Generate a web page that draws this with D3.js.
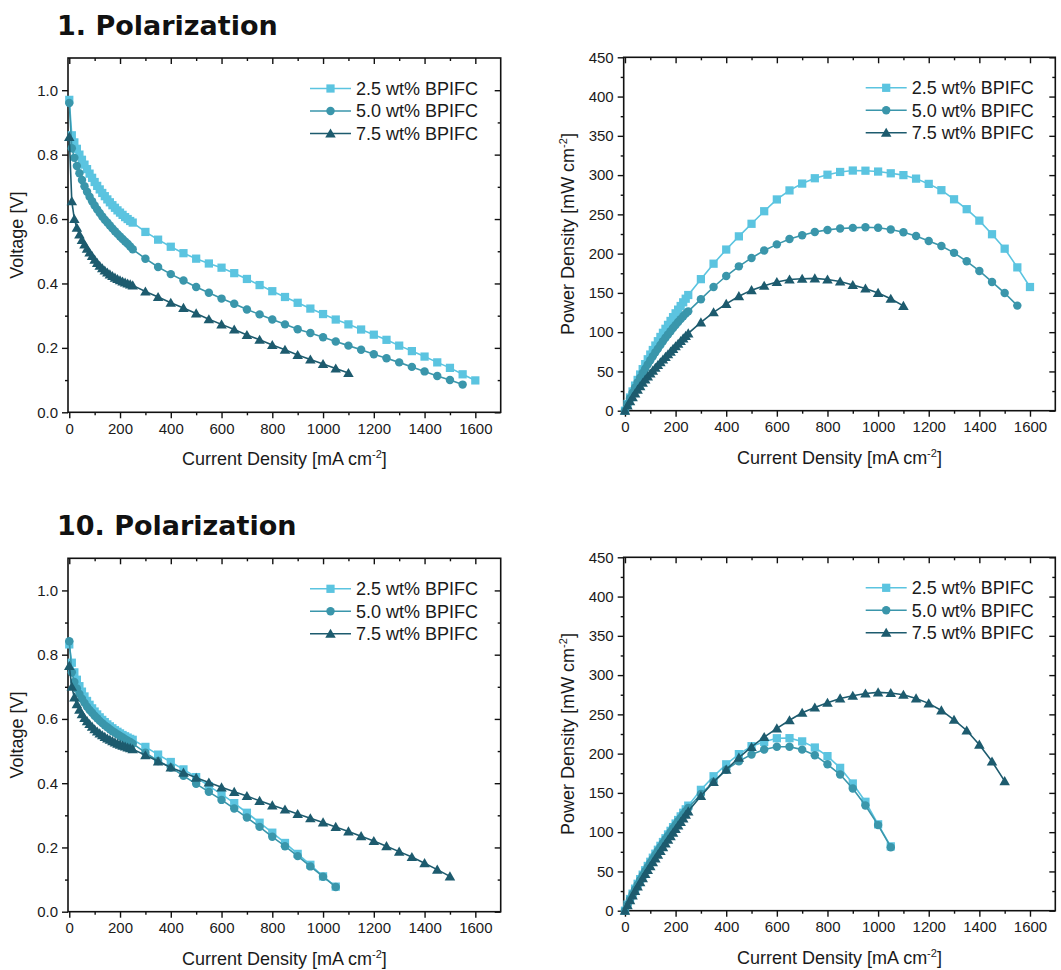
<!DOCTYPE html>
<html>
<head>
<meta charset="utf-8">
<script src="https://cdn.jsdelivr.net/npm/d3@7"></script>
<style>
  body { margin: 0; background: #ffffff; }
  svg { display: block; }
</style>
</head>
<body>
<svg id="chart" width="1061" height="970"></svg>
<script>
// Current density steps (mA cm-2) shared by every measurement
const currentDensity = [0,10,20,30,40,50,60,70,80,90,100,110,120,130,140,150,160,170,180,190,200,210,220,230,240,250,
  300,350,400,450,500,550,600,650,700,750,800,850,900,950,1000,1050,1100,1150,1200,1250,1300,1350,1400,1450,1500,1550,1600];

const seriesNames = ["2.5 wt% BPIFC", "5.0 wt% BPIFC", "7.5 wt% BPIFC"];
const seriesColors = ["#5bc4e0", "#3a96ab", "#1d5b6e"];
const seriesSymbols = [d3.symbolSquare, d3.symbolCircle, d3.symbolTriangle];
const symbolSizes = [68, 56, 48];

const panelTitles = ["1. Polarization", "10. Polarization"];

const xTicks = [0, 200, 400, 600, 800, 1000, 1200, 1400, 1600];
const voltageTicks = [0, 0.2, 0.4, 0.6, 0.8, 1.0];
const powerTicks = [0, 50, 100, 150, 200, 250, 300, 350, 400, 450];

// 1st polarization: voltage (V)
const voltage1_25 = [0.970,0.860,0.838,0.818,0.800,0.784,0.769,0.755,0.741,0.728,0.715,0.703,0.692,0.681,0.671,0.661,0.652,0.643,0.635,0.627,0.620,0.613,0.606,0.600,0.594,0.589,
  0.560,0.536,0.514,0.494,0.477,0.462,0.449,0.432,0.414,0.395,0.376,0.358,0.340,0.322,0.305,0.288,0.273,0.257,0.241,0.225,0.207,0.190,0.173,0.155,0.138,0.118,0.099];
const voltage1_50 = [0.960,0.820,0.790,0.765,0.742,0.721,0.702,0.685,0.669,0.655,0.642,0.630,0.619,0.608,0.598,0.589,0.580,0.571,0.562,0.554,0.546,0.538,0.530,0.523,0.515,0.506,
  0.477,0.451,0.429,0.409,0.389,0.371,0.353,0.337,0.319,0.304,0.288,0.273,0.258,0.246,0.233,0.220,0.207,0.194,0.180,0.168,0.155,0.141,0.127,0.113,0.100,0.086];
const voltage1_75 = [0.855,0.655,0.600,0.573,0.552,0.535,0.521,0.508,0.496,0.485,0.474,0.464,0.455,0.447,0.440,0.434,0.428,0.423,0.418,0.414,0.410,0.406,0.403,0.400,0.397,0.394,
  0.375,0.358,0.340,0.324,0.307,0.289,0.273,0.257,0.240,0.225,0.209,0.194,0.178,0.164,0.150,0.136,0.122];

// 1st polarization: power density (mW cm-2)
const power1_25 = [0,8.6,16.8,24.5,32.0,39.2,46.1,52.9,59.3,65.5,71.5,77.3,83.0,88.5,93.9,99.2,104.3,109.3,114.3,119.1,124.0,128.7,133.3,138.0,142.6,147.3,
  167.5,187.2,205.2,222.0,238.0,254.0,269.0,280.5,289.2,296.0,300.5,304.0,305.8,305.6,304.5,302.3,300.0,295.5,288.8,280.8,269.2,256.6,242.0,224.7,206.3,182.5,157.5];
const power1_50 = [0,8.2,15.8,23.0,29.7,36.1,42.1,48.0,53.5,59.0,64.2,69.3,74.3,79.0,83.7,88.4,92.8,97.1,101.2,105.3,109.2,113.0,116.6,120.3,123.6,126.5,
  142.0,157.5,171.5,183.8,194.5,204.0,211.8,218.7,223.3,227.5,230.2,232.0,232.8,233.5,233.0,230.8,227.3,222.4,216.2,209.8,201.0,190.2,178.0,164.0,149.8,133.8];
const power1_75 = [0,6.6,12.0,17.2,22.1,26.8,31.3,35.6,39.7,43.7,47.4,51.0,54.6,58.1,61.6,65.1,68.5,71.9,75.2,78.7,82.0,85.3,88.7,92.0,95.3,98.5,
  112.5,125.3,136.0,145.8,153.5,159.0,163.8,167.0,168.0,168.5,167.0,164.5,160.0,155.5,150.0,142.5,133.5];

// 10th polarization: voltage (V)
const voltage10_25 = [0.832,0.775,0.745,0.722,0.702,0.685,0.670,0.656,0.644,0.633,0.623,0.614,0.605,0.597,0.590,0.583,0.577,0.571,0.565,0.560,0.555,0.550,0.546,0.542,0.538,0.535,
  0.513,0.489,0.466,0.443,0.419,0.391,0.366,0.338,0.308,0.277,0.246,0.214,0.180,0.146,0.110,0.078];
const voltage10_50 = [0.842,0.745,0.715,0.695,0.678,0.663,0.650,0.638,0.628,0.619,0.610,0.602,0.594,0.587,0.580,0.574,0.568,0.562,0.557,0.552,0.547,0.542,0.537,0.532,0.528,0.523,
  0.495,0.469,0.449,0.423,0.398,0.373,0.348,0.321,0.293,0.264,0.233,0.204,0.173,0.141,0.109,0.077];
const voltage10_75 = [0.765,0.700,0.667,0.646,0.629,0.615,0.603,0.593,0.584,0.576,0.568,0.561,0.555,0.549,0.544,0.539,0.535,0.531,0.527,0.523,0.520,0.517,0.514,0.511,0.509,0.506,
  0.487,0.468,0.449,0.433,0.417,0.402,0.387,0.373,0.360,0.345,0.331,0.318,0.304,0.291,0.278,0.264,0.250,0.235,0.220,0.204,0.187,0.170,0.151,0.131,0.110];

// 10th polarization: power density (mW cm-2)
const power10_25 = [0,7.8,14.9,21.7,28.1,34.3,40.2,45.9,51.5,57.0,62.3,67.5,72.6,77.6,82.6,87.5,92.3,97.1,101.7,106.4,111.0,115.5,120.1,124.7,129.1,133.8,
  153.9,171.2,186.4,199.4,209.5,215.0,219.6,219.7,215.6,207.8,196.8,181.9,162.0,138.7,110.0,81.9];
const power10_50 = [0,7.5,14.3,20.9,27.1,33.2,39.0,44.7,50.2,55.7,61.0,66.2,71.3,76.3,81.2,86.1,90.9,95.5,100.3,104.9,109.4,113.8,118.1,122.4,126.7,130.8,
  148.5,164.2,179.6,190.4,199.0,205.2,208.8,208.7,205.1,198.0,186.4,173.4,155.7,134.0,109.0,80.9];
const power10_75 = [0,7.0,13.3,19.4,25.2,30.8,36.2,41.5,46.7,51.8,56.8,61.7,66.6,71.4,76.2,80.9,85.6,90.3,94.9,99.4,104.0,108.6,113.1,117.5,122.2,126.5,
  146.0,163.8,179.6,194.9,208.5,221.1,232.2,242.5,252.0,258.8,264.8,270.3,273.6,276.5,278.0,277.2,275.0,270.3,264.0,255.0,243.1,229.5,211.4,190.0,165.0];

const svg = d3.select("#chart");
const FONT = "'Liberation Sans', Arial, sans-serif";

// Panel layout: left column = voltage, right column = power density
const panels = [
  { left: 68,    top: 58,    width: 432.7, height: 354.3, kind: "V", series: [voltage1_25, voltage1_50, voltage1_75] },
  { left: 623.7, top: 57.3,  width: 431.6, height: 353.4, kind: "P", series: [power1_25, power1_50, power1_75] },
  { left: 68,    top: 558.3, width: 432.7, height: 353.4, kind: "V", series: [voltage10_25, voltage10_50, voltage10_75] },
  { left: 623.7, top: 557.3, width: 431.6, height: 353.4, kind: "P", series: [power10_25, power10_50, power10_75] }
];

// Section titles
svg.append("text").attr("x", 57).attr("y", 35)
  .style("font-family", "'DejaVu Sans', Verdana, sans-serif").style("font-weight", "bold").style("font-size", "27px")
  .attr("fill", "#111").text(panelTitles[0]);
svg.append("text").attr("x", 57).attr("y", 535)
  .style("font-family", "'DejaVu Sans', Verdana, sans-serif").style("font-weight", "bold").style("font-size", "27px")
  .attr("fill", "#111").text(panelTitles[1]);

panels.forEach(p => {
  const g = svg.append("g").attr("transform", `translate(${p.left},${p.top})`);
  const x = d3.scaleLinear().domain([-5, 1700]).range([0, p.width]);
  const isV = p.kind === "V";
  const y = d3.scaleLinear().domain(isV ? [0, 1.1] : [0, 450]).range([p.height, 0]);
  const yMajor = isV ? voltageTicks : powerTicks;
  const yMinor = isV ? d3.range(0.1, 1.05, 0.2) : d3.range(25, 450, 50);
  const xMinor = d3.range(100, 1700, 200);

  const styleAxis = sel => {
    sel.select(".domain").remove();
    sel.selectAll("line").attr("stroke", "#111").attr("stroke-width", 1.4);
    sel.selectAll("text").style("font-family", FONT).style("font-size", "15px").attr("fill", "#1a1a1a");
  };

  // bottom axis: outward ticks with labels
  g.append("g").attr("transform", `translate(0,${p.height})`)
    .call(d3.axisBottom(x).tickValues(xTicks).tickSize(6).tickPadding(5).tickFormat(d3.format("d")))
    .call(styleAxis);
  g.append("g").attr("transform", `translate(0,${p.height})`)
    .call(d3.axisBottom(x).tickValues(xMinor).tickSize(3).tickFormat(""))
    .call(styleAxis);
  // top axis: inward ticks
  g.append("g").call(d3.axisTop(x).tickValues(xTicks).tickSize(-6).tickFormat("")).call(styleAxis);
  g.append("g").call(d3.axisTop(x).tickValues(xMinor).tickSize(-3).tickFormat("")).call(styleAxis);

  // left axis: outward ticks with labels
  g.append("g")
    .call(d3.axisLeft(y).tickValues(yMajor).tickSize(6).tickPadding(4).tickFormat(isV ? d3.format(".1f") : d3.format("d")))
    .call(styleAxis);
  g.append("g").call(d3.axisLeft(y).tickValues(yMinor).tickSize(3).tickFormat("")).call(styleAxis);
  // right axis: inward ticks
  g.append("g").attr("transform", `translate(${p.width},0)`)
    .call(d3.axisRight(y).tickValues(yMajor).tickSize(-6).tickFormat("")).call(styleAxis);
  g.append("g").attr("transform", `translate(${p.width},0)`)
    .call(d3.axisRight(y).tickValues(yMinor).tickSize(-3).tickFormat("")).call(styleAxis);

  // frame
  g.append("rect").attr("width", p.width).attr("height", p.height)
    .attr("fill", "none").attr("stroke", "#111").attr("stroke-width", 1.6);

  // axis titles
  const xt = g.append("text").attr("x", p.width / 2).attr("y", p.height + 53)
    .attr("text-anchor", "middle").style("font-family", FONT).style("font-size", "18px").attr("fill", "#1a1a1a");
  xt.append("tspan").text("Current Density [mA cm");
  xt.append("tspan").attr("dy", -7).style("font-size", "11px").text("-2");
  xt.append("tspan").attr("dy", 7).text("]");

  const yt = g.append("text")
    .attr("transform", `translate(${isV ? -45 : -50},${p.height / 2}) rotate(-90)`)
    .attr("text-anchor", "middle").style("font-family", FONT).style("font-size", "18px").attr("fill", "#1a1a1a");
  if (isV) {
    yt.text("Voltage [V]");
  } else {
    yt.append("tspan").text("Power Density [mW cm");
    yt.append("tspan").attr("dy", -7).style("font-size", "11px").text("-2");
    yt.append("tspan").attr("dy", 7).text("]");
  }

  // series: line plus symbols
  const line = d3.line().x(d => x(d[0])).y(d => y(d[1]));
  p.series.forEach((vals, i) => {
    const pts = vals.map((v, k) => [currentDensity[k], v]);
    g.append("path").datum(pts).attr("d", line)
      .attr("fill", "none").attr("stroke", seriesColors[i]).attr("stroke-width", 1.6);
    const sym = d3.symbol().type(seriesSymbols[i]).size(symbolSizes[i]);
    g.append("g").selectAll("path").data(pts).join("path")
      .attr("transform", d => `translate(${x(d[0])},${y(d[1]) + (i === 2 ? 1 : 0)})`)
      .attr("d", sym).attr("fill", seriesColors[i]);
  });

  // legend
  const lx = 242, ly = 30.5, dy = 22.5;
  seriesNames.forEach((name, i) => {
    const row = g.append("g").attr("transform", `translate(${lx},${ly + i * dy})`);
    row.append("line").attr("x1", 0).attr("x2", 41).attr("y1", 0).attr("y2", 0)
      .attr("stroke", seriesColors[i]).attr("stroke-width", 1.6);
    row.append("path").attr("transform", `translate(20.5,${i === 2 ? 1 : 0})`)
      .attr("d", d3.symbol().type(seriesSymbols[i]).size(symbolSizes[i])).attr("fill", seriesColors[i]);
    row.append("text").attr("x", 46).attr("y", 0).attr("dy", "0.35em")
      .style("font-family", FONT).style("font-size", "18px").attr("fill", "#1a1a1a").text(name);
  });
});
</script>
</body>
</html>
